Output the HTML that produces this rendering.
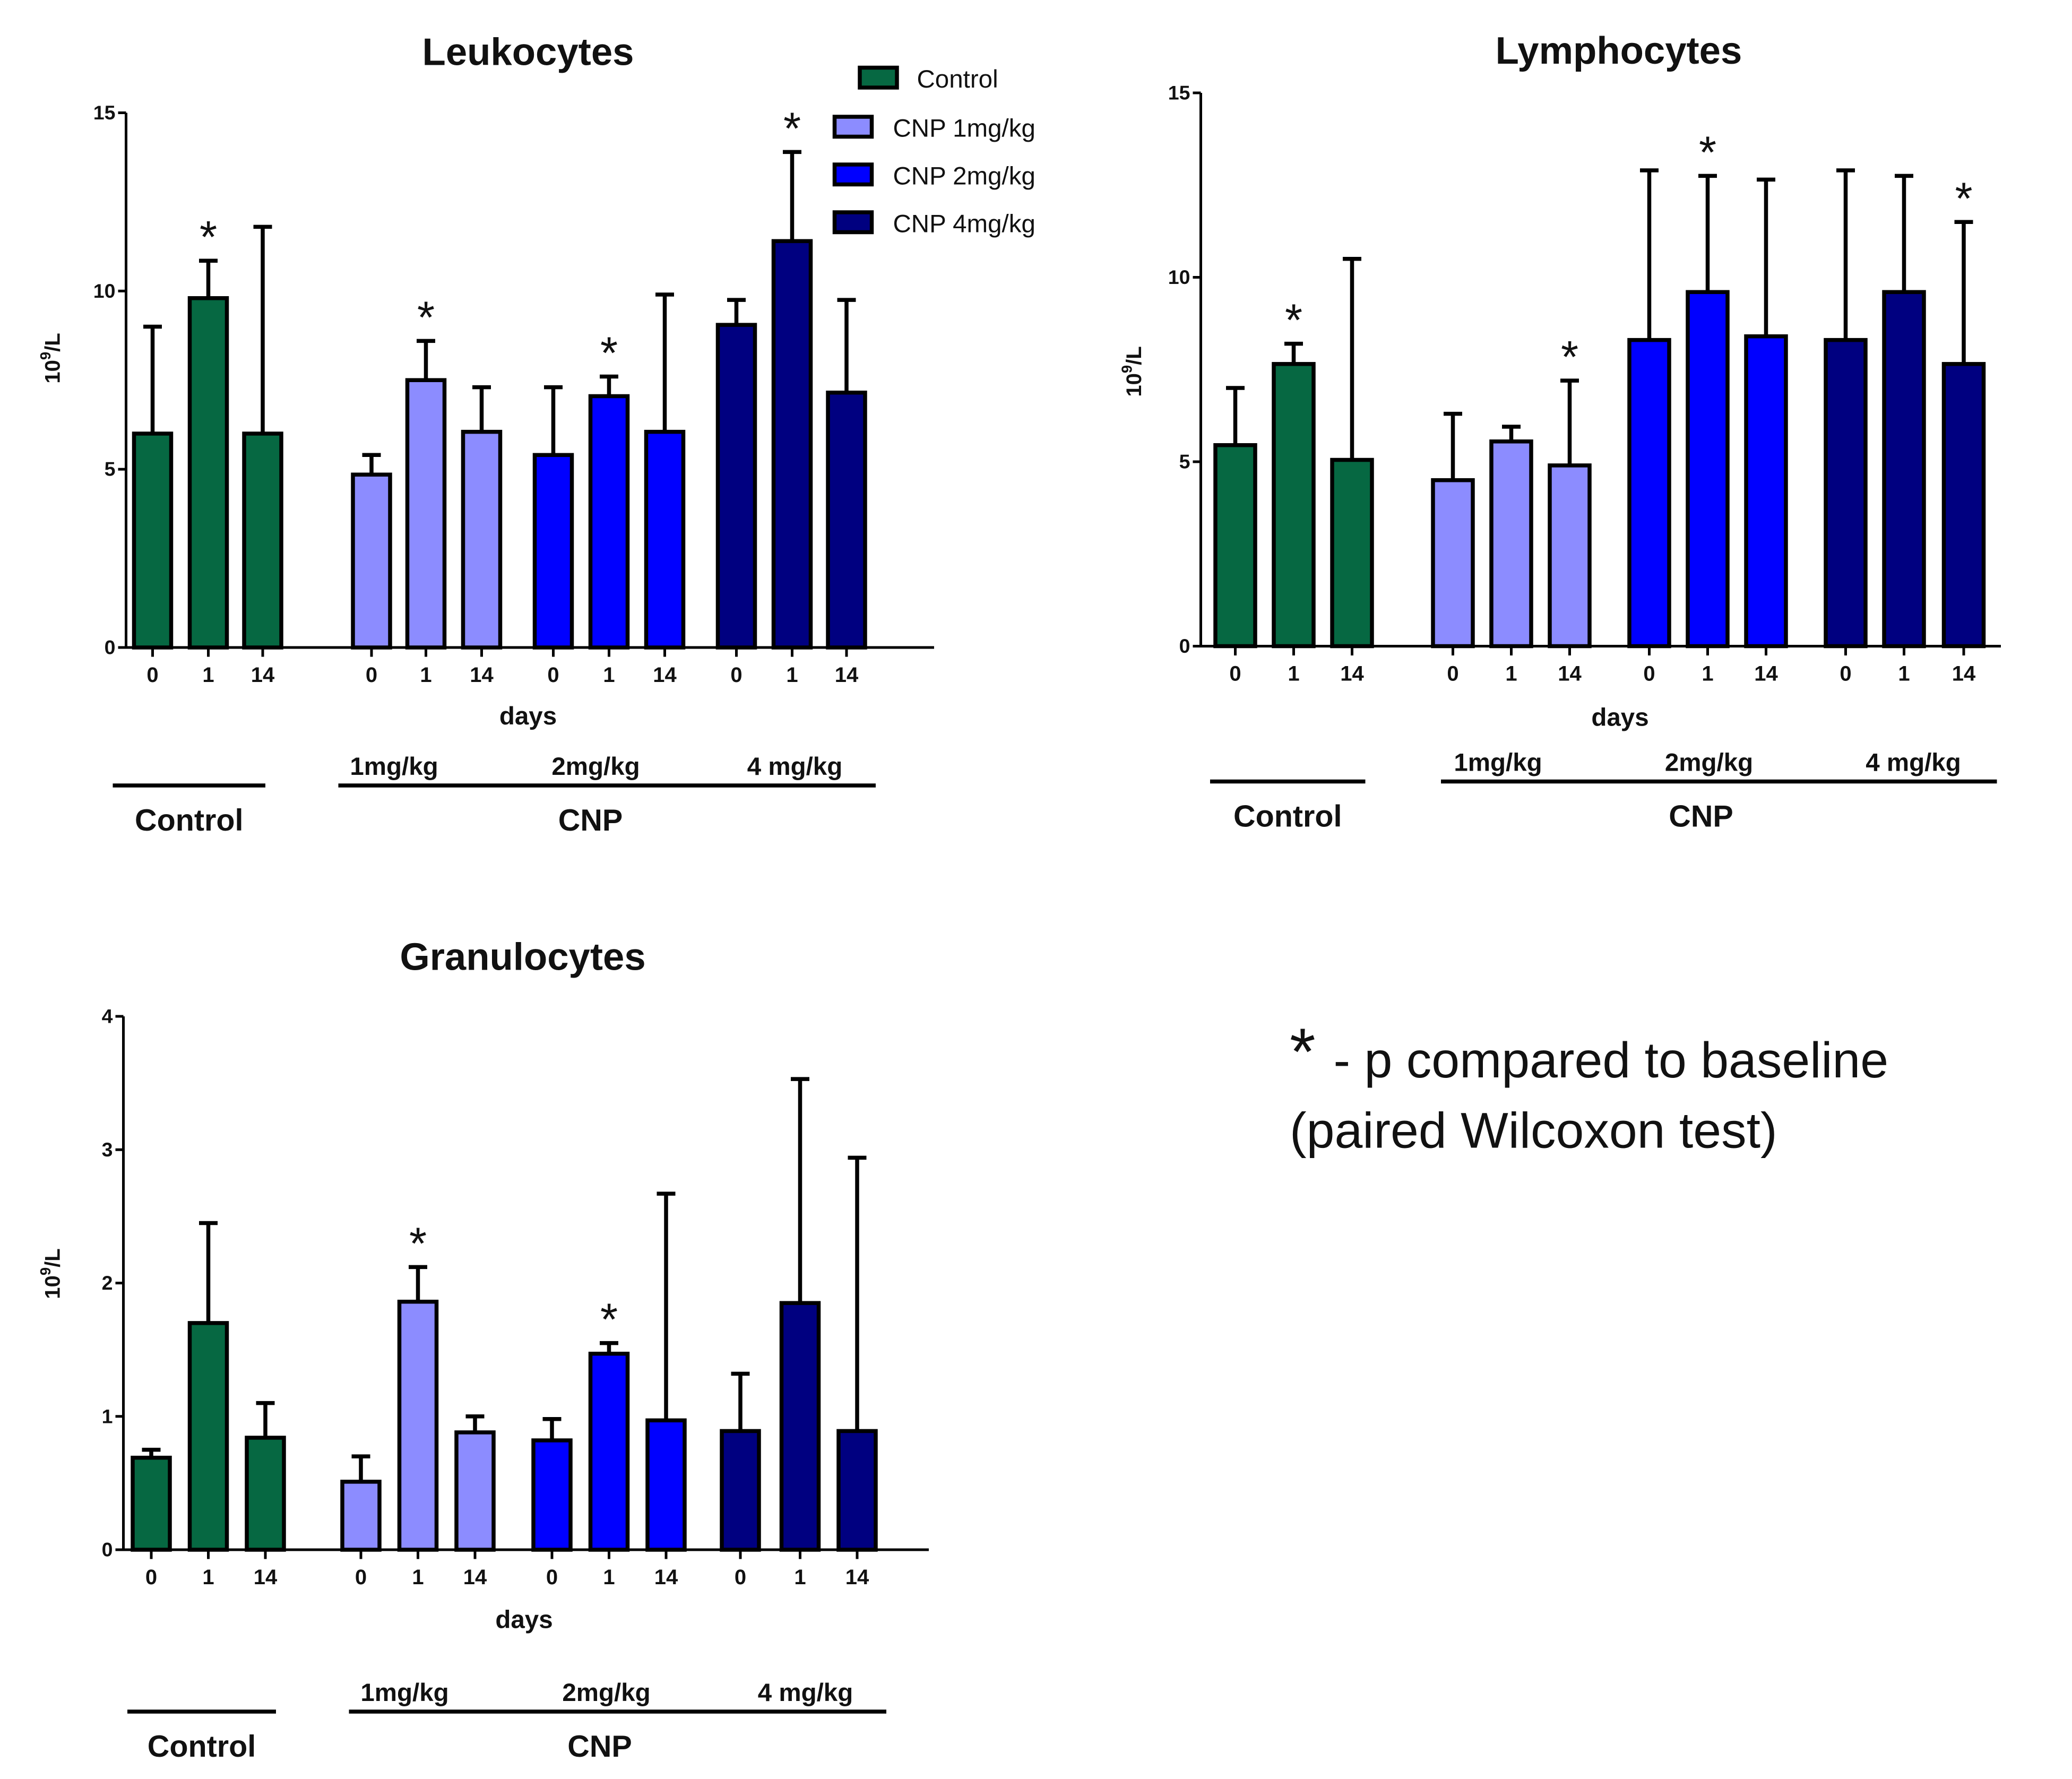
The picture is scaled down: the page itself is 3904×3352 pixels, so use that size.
<!DOCTYPE html>
<html><head><meta charset="utf-8"><style>
html,body{margin:0;padding:0;background:#fff;}
svg{display:block;}
text{font-family:"Liberation Sans",Arial,sans-serif;fill:#111;}
</style></head><body>
<svg id="root" width="3904" height="3352" viewBox="0 0 1561.6 1340.8" xmlns="http://www.w3.org/2000/svg">
<g id="annot">
<text x="972" y="810" font-size="50">*</text>
<text x="1005" y="812" font-size="38">- p compared to baseline</text>
<text x="972" y="865" font-size="38">(paired Wilcoxon test)</text>
</g>
<g>
<g><rect x="648" y="51" width="28" height="15" fill="#066842" stroke="#000" stroke-width="3"/><text x="691" y="66" font-size="19">Control</text></g>
<g><rect x="629" y="88" width="28" height="15" fill="#8c8cff" stroke="#000" stroke-width="3"/><text x="673" y="103" font-size="19">CNP 1mg/kg</text></g>
<g><rect x="629" y="124" width="28" height="15" fill="#0000ff" stroke="#000" stroke-width="3"/><text x="673" y="139" font-size="19">CNP 2mg/kg</text></g>
<g><rect x="629" y="160" width="28" height="15" fill="#000080" stroke="#000" stroke-width="3"/><text x="673" y="175" font-size="19">CNP 4mg/kg</text></g>
</g>
</svg>
<script>
const colors = ['#066842','#066842','#066842','#8c8cff','#8c8cff','#8c8cff','#0000ff','#0000ff','#0000ff','#000080','#000080','#000080'];
const dayLabels = ['0','1','14','0','1','14','0','1','14','0','1','14'];
const leukoValues = [6.0,9.8,6.0,4.85,7.5,6.05,5.4,7.05,6.05,9.05,11.4,7.15];
const leukoErrTop = [9.0,10.85,11.8,5.4,8.6,7.3,7.3,7.6,9.9,9.75,13.9,9.75];
const leukoStars = [1,4,7,10];
const leukoTicks = [0,5,10,15];
const lymphoValues = [5.45,7.65,5.05,4.5,5.55,4.9,8.3,9.6,8.4,8.3,9.6,7.65];
const lymphoErrTop = [7.0,8.2,10.5,6.3,5.95,7.2,12.9,12.75,12.65,12.9,12.75,11.5];
const lymphoStars = [1,5,7,11];
const lymphoTicks = [0,5,10,15];
const granuloValues = [0.69,1.7,0.84,0.51,1.86,0.88,0.82,1.47,0.97,0.89,1.85,0.89];
const granuloErrTop = [0.75,2.45,1.1,0.7,2.12,1.0,0.98,1.55,2.67,1.32,3.53,2.94];
const granuloStars = [4,7];
const granuloTicks = [0,1,2,3,4];

const NS='http://www.w3.org/2000/svg';
const root=document.getElementById('root');
function mk(tag,attrs,parent,txt){const e=document.createElementNS(NS,tag);for(const k in attrs)e.setAttribute(k,attrs[k]);if(txt!==undefined)e.textContent=txt;parent.appendChild(e);return e;}

function chart(cfg){
  const g=mk('g',{},root);
  
  
  const ymax=cfg.ticks[cfg.ticks.length-1];
  const y=v=>cfg.y0-(cfg.y0-cfg.yTop)*v/ymax;
  const t=mk('text',{x:cfg.titleX,y:cfg.titleY,'font-size':29,'font-weight':'bold','text-anchor':'middle'},g,cfg.title);
  
  
  cfg.values.forEach((v,i)=>{
    const cx=cfg.centers[i], w=cfg.bw;
    const top=y(cfg.err[i]);
    const el=mk('line',{x1:cx,x2:cx,y1:y(v),y2:top,stroke:'#000','stroke-width':3},g);
    
    
    const cap=mk('line',{x1:cx-7,x2:cx+7,y1:top,y2:top,stroke:'#000','stroke-width':3},g);
    
    
    const r=mk('rect',{x:cx-w/2,y:y(v),width:w,height:cfg.y0-y(v),fill:colors[i],stroke:'#000','stroke-width':3},g);
    
    
    const tl=mk('text',{x:cx,y:cfg.y0+26,'font-size':16,'font-weight':'bold','text-anchor':'middle'},g,dayLabels[i]);
    
    
    mk('line',{x1:cx,x2:cx,y1:cfg.y0,y2:cfg.y0+7,stroke:'#000','stroke-width':2},g);
  });
  cfg.stars.forEach(i=>{
    const s=mk('text',{x:cfg.centers[i],y:y(cfg.err[i])-6,'font-size':34,'text-anchor':'middle'},g,'*');
    
    
  });
  const ya=mk('line',{x1:cfg.ax,x2:cfg.ax,y1:cfg.yTop,y2:cfg.y0,stroke:'#000','stroke-width':2},g);
  
  
  const xa=mk('line',{x1:cfg.ax-6,x2:cfg.axR,y1:cfg.y0,y2:cfg.y0,stroke:'#000','stroke-width':2},g);
  
  
  cfg.ticks.forEach(tv=>{
    mk('line',{x1:cfg.ax-6,x2:cfg.ax,y1:y(tv),y2:y(tv),stroke:'#000','stroke-width':2},g);
    const l=mk('text',{x:cfg.ax-8,y:y(tv)+5,'font-size':15,'font-weight':'bold','text-anchor':'end'},g,String(tv));
    
    
  });
  const yl=mk('text',{transform:`translate(${cfg.ylx},${cfg.yly}) rotate(-90)`,'font-size':16,'font-weight':'bold','text-anchor':'middle'},g);
  
  
  yl.innerHTML='10<tspan dy="-7" font-size="11">9</tspan><tspan dy="7">/L</tspan>';
  const d=mk('text',{x:cfg.daysX,y:cfg.daysY,'font-size':19,'font-weight':'bold','text-anchor':'middle'},g,'days');
  
  
  const L=cfg.gy;
  const cl=mk('line',{x1:cfg.cl[0],x2:cfg.cl[1],y1:L,y2:L,stroke:'#000','stroke-width':3},g);
  
  
  const nl=mk('line',{x1:cfg.nl[0],x2:cfg.nl[1],y1:L,y2:L,stroke:'#000','stroke-width':3},g);
  
  
  ['1mg/kg','2mg/kg','4 mg/kg'].forEach((s,k)=>{
    const e=mk('text',{x:cfg.doseX[k],y:L-8,'font-size':19,'font-weight':'bold','text-anchor':'middle'},g,s);
    
    
  });
  const c=mk('text',{x:(cfg.cl[0]+cfg.cl[1])/2,y:L+34,'font-size':23,'font-weight':'bold','text-anchor':'middle'},g,'Control');
  
  
  const n=mk('text',{x:cfg.cnpX,y:L+34,'font-size':23,'font-weight':'bold','text-anchor':'middle'},g,'CNP');
  
  
}

chart({name:'leukocytes-chart',title:'Leukocytes',titleX:398,titleY:49,values:leukoValues,err:leukoErrTop,stars:leukoStars,ticks:leukoTicks,
  ax:95,axR:704,y0:488,yTop:85,bw:28,centers:[115,157,198,280,321,363,417,459,501,555,597,638],
  ylx:45,yly:270,daysX:398,daysY:546,gy:592,cl:[85,200],nl:[255,660],doseX:[297,449,599],cnpX:445});
chart({name:'lymphocytes-chart',title:'Lymphocytes',titleX:1220,titleY:48,values:lymphoValues,err:lymphoErrTop,stars:lymphoStars,ticks:lymphoTicks,
  ax:905,axR:1508,y0:487,yTop:70,bw:30,centers:[931,975,1019,1095,1139,1183,1243,1287,1331,1391,1435,1480],
  ylx:860,yly:280,daysX:1221,daysY:547,gy:589,cl:[912,1029],nl:[1086,1505],doseX:[1129,1288,1442],cnpX:1282});
chart({name:'granulocytes-chart',title:'Granulocytes',titleX:394,titleY:731,values:granuloValues,err:granuloErrTop,stars:granuloStars,ticks:granuloTicks,
  ax:93,axR:700,y0:1168,yTop:766,bw:28,centers:[114,157,200,272,315,358,416,459,502,558,603,646],
  ylx:45,yly:960,daysX:395,daysY:1227,gy:1290,cl:[96,208],nl:[263,668],doseX:[305,457,607],cnpX:452});
</script>
</body></html>
